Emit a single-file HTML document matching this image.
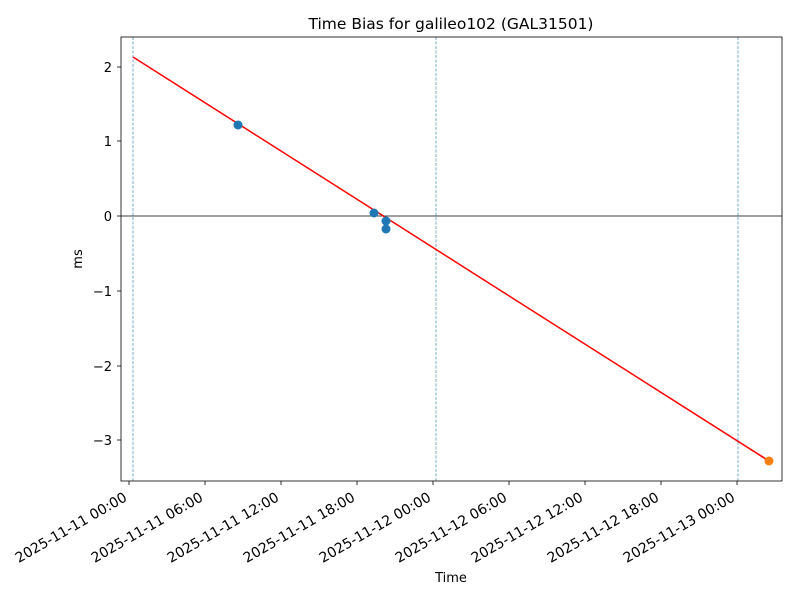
<!DOCTYPE html>
<html><head><meta charset="utf-8"><style>body{margin:0;background:#fff}</style></head><body>
<svg width="800" height="600" xmlns="http://www.w3.org/2000/svg" font-family="DejaVu Sans, Liberation Sans, sans-serif" font-size="13">
<rect width="800" height="600" fill="#fff"/>
<text x="451" y="29" font-size="15.5" text-anchor="middle">Time Bias for galileo102 (GAL31501)</text>
<g stroke="#1f77b4" stroke-width="0.6" stroke-dasharray="3,1.5">
<line x1="133" y1="37" x2="133" y2="481"/>
<line x1="436" y1="37" x2="436" y2="481"/>
<line x1="738" y1="37" x2="738" y2="481"/>
</g>
<line x1="121" y1="216" x2="782" y2="216" stroke="#000" stroke-width="0.8"/>
<line x1="133" y1="57" x2="769" y2="461" stroke="red" stroke-width="1.5"/>
<g fill="#1f77b4">
<circle cx="238" cy="125" r="4.5"/><circle cx="374" cy="213" r="4.5"/><circle cx="386" cy="221" r="4.5"/><circle cx="386" cy="229" r="4.5"/>
</g>
<circle cx="769" cy="461" r="4.5" fill="#ff7f0e"/>
<rect x="121" y="37" width="661" height="444" fill="none" stroke="#000" stroke-width="0.8"/>
<g stroke="#000" stroke-width="0.8">
<line x1="117" y1="67" x2="121" y2="67"/><line x1="117" y1="141" x2="121" y2="141"/><line x1="117" y1="216" x2="121" y2="216"/>
<line x1="117" y1="291" x2="121" y2="291"/><line x1="117" y1="366" x2="121" y2="366"/><line x1="117" y1="440" x2="121" y2="440"/>
<line x1="129" y1="481" x2="129" y2="485"/><line x1="205" y1="481" x2="205" y2="485"/><line x1="281" y1="481" x2="281" y2="485"/>
<line x1="357" y1="481" x2="357" y2="485"/><line x1="433" y1="481" x2="433" y2="485"/><line x1="509" y1="481" x2="509" y2="485"/>
<line x1="585" y1="481" x2="585" y2="485"/><line x1="661" y1="481" x2="661" y2="485"/><line x1="737" y1="481" x2="737" y2="485"/>
</g>
<g text-anchor="end">
<text x="112" y="72">2</text><text x="112" y="146">1</text><text x="112" y="221">0</text>
<text x="112" y="296">−1</text><text x="112" y="371">−2</text><text x="112" y="445">−3</text>
</g>
<g text-anchor="end" font-size="14">
<text transform="translate(128,500) rotate(-30)">2025-11-11 00:00</text>
<text transform="translate(204,500) rotate(-30)">2025-11-11 06:00</text>
<text transform="translate(280,500) rotate(-30)">2025-11-11 12:00</text>
<text transform="translate(356,500) rotate(-30)">2025-11-11 18:00</text>
<text transform="translate(432,500) rotate(-30)">2025-11-12 00:00</text>
<text transform="translate(508,500) rotate(-30)">2025-11-12 06:00</text>
<text transform="translate(584,500) rotate(-30)">2025-11-12 12:00</text>
<text transform="translate(660,500) rotate(-30)">2025-11-12 18:00</text>
<text transform="translate(736,500) rotate(-30)">2025-11-13 00:00</text>
</g>
<text x="451" y="582" text-anchor="middle">Time</text>
<text transform="translate(82,259) rotate(-90)" text-anchor="middle">ms</text>
</svg>
</body></html>
